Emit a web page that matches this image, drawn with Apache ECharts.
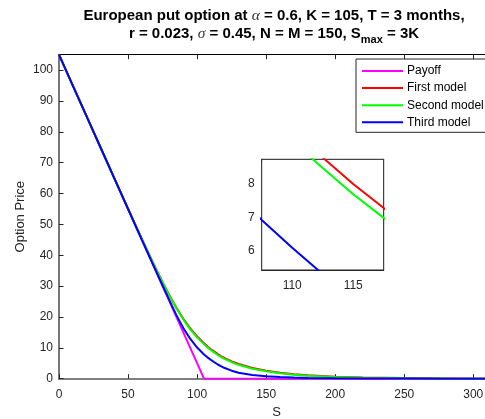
<!DOCTYPE html>
<html>
<head>
<meta charset="UTF-8">
<title>European put option</title>
<style>
    html, body { margin: 0; padding: 0; background: #fff; }
    #chartArea { width: 485px; height: 419px; }
</style>
</head>
<body>
<div id="chartArea"></div>
<script src="https://cdn.jsdelivr.net/npm/echarts@6/dist/echarts.min.js"></script>
<script>
// values
var seriesNames = ['Payoff', 'First model', 'Second model', 'Third model'];
var lineColors = ['#ff00ff', '#ff0000', '#00ff00', '#0000ff'];

var payoffS = [0, 105, 315];
var payoffV = [105, 0, 0];

var sValues = [0, 10, 20, 30, 40, 50, 60, 65, 70, 75, 80, 85, 90, 95, 100, 105, 107.5, 110, 112.5, 115, 117.5, 120,
               125, 130, 140, 150, 160, 170, 180, 200, 220, 250, 280, 315];
var firstModel = [105, 95, 85, 75, 65, 55.1, 45.3, 40.5, 35.8, 31.3, 27.0, 23.0, 19.4, 16.3, 13.7, 11.5, 10.45, 9.55, 8.76, 7.98, 7.27, 6.65,
                  5.6, 4.75, 3.45, 2.55, 1.9, 1.45, 1.1, 0.65, 0.4, 0.2, 0.1, 0];
var secondModel = [105, 95, 85, 75, 65, 55.05, 45.25, 40.45, 35.7, 31.2, 26.85, 22.8, 19.2, 16.0, 13.4, 11.2, 10.15, 9.25, 8.45, 7.68, 6.98, 6.38,
                   5.35, 4.5, 3.25, 2.4, 1.75, 1.3, 0.98, 0.55, 0.33, 0.16, 0.07, 0];
var thirdModel = [105, 95, 85, 75, 65, 55, 45, 40.05, 35.1, 30.2, 25.4, 20.6, 16.4, 12.95, 10.1, 7.85, 6.92, 6.1, 5.32, 4.6, 4.0, 3.45,
                  2.6, 1.95, 1.2, 0.8, 0.52, 0.35, 0.24, 0.12, 0.06, 0.03, 0.01, 0];

var xTicksMain = [0, 50, 100, 150, 200, 250, 300];
var yTicksMain = [0, 10, 20, 30, 40, 50, 60, 70, 80, 90, 100];

function pairs(xs, ys) {
    return xs.map(function (x, i) { return [x, ys[i]]; });
}

var modelData = [pairs(payoffS, payoffV), pairs(sValues, firstModel), pairs(sValues, secondModel), pairs(sValues, thirdModel)];

var axisColor = '#262626';
var labelStyle = { color: axisColor, fontSize: 12, fontFamily: 'Liberation Sans' };

function hideEdge(v) {
    return Number.isInteger(v) ? String(v) : '';
}

var series = [];
modelData.forEach(function (d, i) {
    series.push({
        name: seriesNames[i],
        type: 'line',
        xAxisIndex: 0,
        yAxisIndex: 0,
        data: d,
        showSymbol: false,
        lineStyle: { color: lineColors[i], width: 2 },
        itemStyle: { color: lineColors[i] },
        z: 2 + i
    });
    // zoomed copy
    series.push({
        name: seriesNames[i],
        type: 'line',
        xAxisIndex: 2,
        yAxisIndex: 2,
        data: d,
        showSymbol: false,
        clip: true,
        lineStyle: { color: lineColors[i], width: 2 },
        itemStyle: { color: lineColors[i] },
        z: 12 + i
    });
});

var titleRich = {
    b: { fontFamily: 'Liberation Sans', fontWeight: 'bold', fontSize: 15, fill: '#000', verticalAlign: 'top', lineHeight: 17 },
    g: { fontFamily: 'Liberation Serif', fontStyle: 'italic', fontSize: 15.5, fill: '#333', verticalAlign: 'top', lineHeight: 17 },
    s: { fontFamily: 'Liberation Sans', fontWeight: 'bold', fontSize: 11, fill: '#000', verticalAlign: 'top', lineHeight: 17, padding: [8, 0, 0, 0] }
};

var myChart = echarts.init(document.getElementById('chartArea'), null, { renderer: 'canvas' });

myChart.setOption({
    animation: false,
    backgroundColor: '#fff',
    graphic: [
        {
            type: 'text',
            x: 274,
            y: 8,
            z: 50,
            style: {
                text: '{b|European put option at }{g|α}{b| = 0.6, K = 105, T = 3 months,}',
                align: 'center',
                verticalAlign: 'top',
                rich: titleRich
            }
        },
        {
            type: 'text',
            x: 274,
            y: 26,
            z: 50,
            style: {
                text: '{b|r = 0.023, }{g|σ}{b| = 0.45, N = M = 150, S}{s|max}{b| = 3K}',
                align: 'center',
                verticalAlign: 'top',
                rich: titleRich
            }
        }
    ],
    legend: {
        data: seriesNames,
        orient: 'vertical',
        left: 356,
        top: 59,
        padding: [5, 6, 3, 6],
        itemGap: 3.1,
        itemWidth: 41,
        itemHeight: 2,
        icon: 'rect',
        backgroundColor: '#fff',
        borderColor: '#262626',
        borderWidth: 1,
        borderRadius: 0,
        textStyle: { color: '#000', fontSize: 12, fontFamily: 'Liberation Sans', padding: [0, 0, 0, -1], lineHeight: 14 },
        z: 40
    },
    grid: [
        { left: 59, top: 54.7, width: 435, height: 324, show: false, containLabel: false, outerBoundsMode: 'none' },
        { left: 261.7, top: 159.3, width: 122, height: 110.7, show: true, backgroundColor: '#fff', borderColor: axisColor, borderWidth: 1, z: 10, containLabel: false, outerBoundsMode: 'none' }
    ],
    xAxis: [
        {
            type: 'value', gridIndex: 0, min: 0, max: 315, interval: 50,
            name: 'S', nameLocation: 'middle', nameGap: 27, nameMoveOverlap: false,
            nameTextStyle: { color: axisColor, fontSize: 13, fontFamily: 'Liberation Sans' },
            axisLine: { show: true, onZero: false, lineStyle: { color: '#555', width: 1.5 } },
            axisTick: { show: true, inside: true, length: 4.5, lineStyle: { color: axisColor } },
            axisLabel: Object.assign({ margin: 10, showMaxLabel: false, formatter: function (v) { return xTicksMain.indexOf(v) >= 0 ? String(v) : ''; } }, labelStyle),
            splitLine: { show: false }
        },
        {
            type: 'value', gridIndex: 0, min: 0, max: 315, interval: 50, position: 'top',
            axisLine: { show: true, onZero: false, lineStyle: { color: '#000', width: 1 } },
            axisTick: { show: true, inside: true, length: 4.5, lineStyle: { color: axisColor } },
            axisLabel: { show: false },
            splitLine: { show: false }
        },
        {
            type: 'value', gridIndex: 1, min: 107.5, max: 117.5, splitNumber: 2,
            axisLine: { show: true, onZero: false, lineStyle: { color: axisColor, width: 1 } },
            axisTick: { show: true, inside: true, length: 3, lineStyle: { color: axisColor } },
            axisLabel: Object.assign({ margin: 10, showMinLabel: false, showMaxLabel: false, formatter: hideEdge }, labelStyle),
            splitLine: { show: false }
        },
        {
            type: 'value', gridIndex: 1, min: 107.5, max: 117.5, splitNumber: 2, position: 'top',
            axisLine: { show: true, onZero: false, lineStyle: { color: axisColor, width: 1 } },
            axisTick: { show: true, inside: true, length: 3, lineStyle: { color: axisColor } },
            axisLabel: { show: false },
            splitLine: { show: false }
        }
    ],
    yAxis: [
        {
            type: 'value', gridIndex: 0, min: 0, max: 105, interval: 10,
            name: 'Option Price', nameLocation: 'middle', nameGap: 32, nameMoveOverlap: false,
            nameTextStyle: { color: axisColor, fontSize: 13, fontFamily: 'Liberation Sans' },
            axisLine: { show: true, onZero: false, lineStyle: { color: '#777', width: 2 } },
            axisTick: { show: true, inside: true, length: 4.5, lineStyle: { color: axisColor } },
            axisLabel: Object.assign({ margin: 6, showMaxLabel: false, formatter: function (v) { return yTicksMain.indexOf(v) >= 0 ? String(v) : ''; } }, labelStyle),
            splitLine: { show: false }
        },
        {
            type: 'value', gridIndex: 0, min: 0, max: 105, interval: 10, position: 'right',
            axisLine: { show: true, onZero: false, lineStyle: { color: '#000', width: 1 } },
            axisTick: { show: true, inside: true, length: 4.5 },
            axisLabel: { show: false },
            splitLine: { show: false }
        },
        {
            type: 'value', gridIndex: 1, min: 5.44, max: 8.71, splitNumber: 3,
            axisLine: { show: true, onZero: false, lineStyle: { color: '#777', width: 1.5 } },
            axisTick: { show: true, inside: true, length: 3, lineStyle: { color: axisColor } },
            axisLabel: Object.assign({ margin: 7, showMinLabel: false, showMaxLabel: false, formatter: hideEdge }, labelStyle),
            splitLine: { show: false }
        },
        {
            type: 'value', gridIndex: 1, min: 5.44, max: 8.71, splitNumber: 3, position: 'right',
            axisLine: { show: true, onZero: false, lineStyle: { color: axisColor, width: 1 } },
            axisTick: { show: true, inside: true, length: 3, lineStyle: { color: axisColor } },
            axisLabel: { show: false },
            splitLine: { show: false }
        }
    ],
    series: series
});
</script>
</body>
</html>
